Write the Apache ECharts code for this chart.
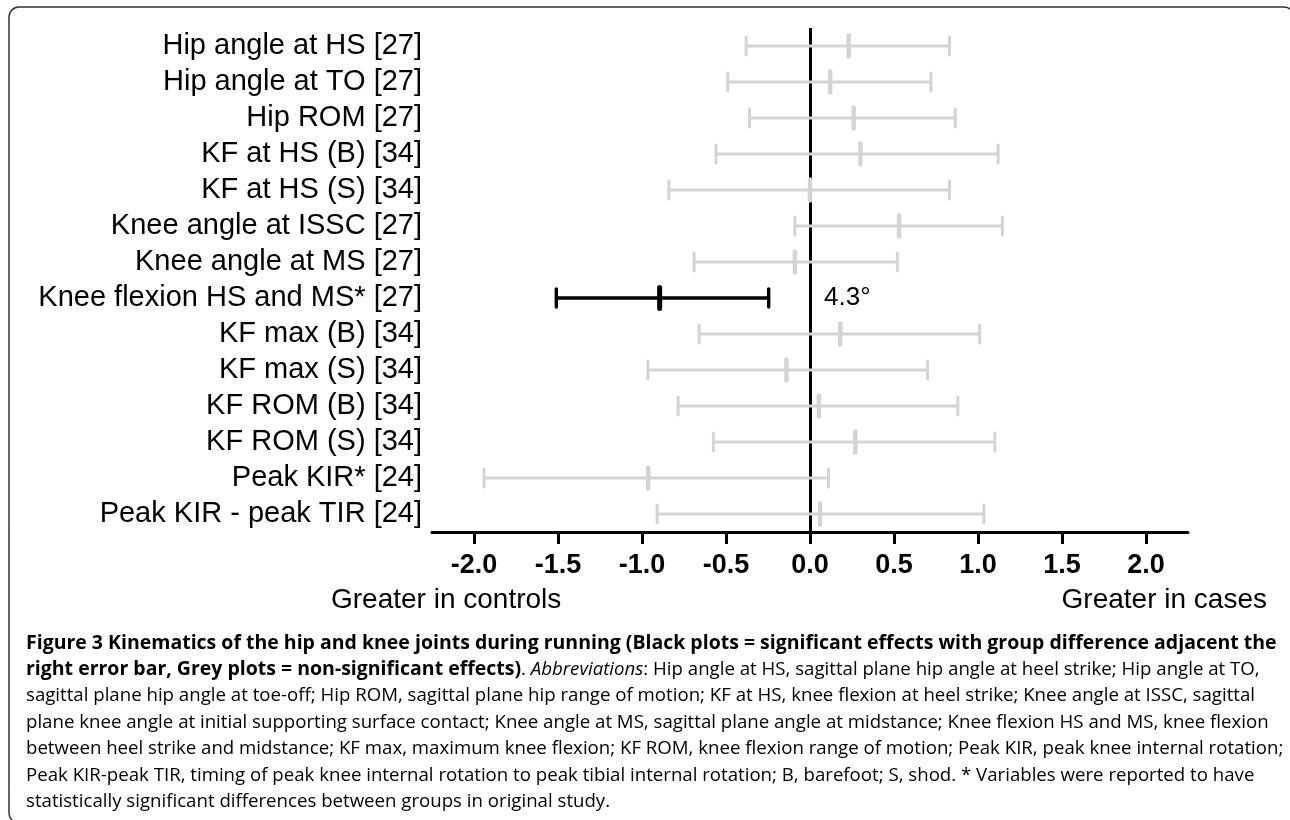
<!DOCTYPE html>
<html><head><meta charset="utf-8">
<script src="https://cdn.jsdelivr.net/npm/echarts@6/dist/echarts.min.js"></script>
<style>html,body{margin:0;padding:0;background:#fff}#c{width:1290px;height:820px}</style>
</head><body><div id="c"></div>
<script>
// ---- data ----
const categories = [
  'Hip angle at HS [27]', 'Hip angle at TO [27]', 'Hip ROM [27]', 'KF at HS (B) [34]',
  'KF at HS (S) [34]', 'Knee angle at ISSC [27]', 'Knee angle at MS [27]',
  'Knee flexion HS and MS* [27]', 'KF max (B) [34]', 'KF max (S) [34]',
  'KF ROM (B) [34]', 'KF ROM (S) [34]', 'Peak KIR* [24]', 'Peak KIR - peak TIR [24]'
];
const lower    = [-0.38, -0.49, -0.36, -0.56, -0.84, -0.09, -0.69, -1.51, -0.66, -0.965, -0.785, -0.575, -1.94, -0.91];
const estimate = [ 0.23,  0.12,  0.26,  0.30,  0.00,  0.53, -0.09, -0.895, 0.18, -0.14,  0.053,  0.27, -0.963, 0.06];
const upper    = [ 0.83,  0.72,  0.865, 1.12,  0.83,  1.145, 0.52, -0.246, 1.01,  0.70,  0.88,   1.10,  0.11,  1.035];
const significant = [0, 0, 0, 0, 0, 0, 0, 1, 0, 0, 0, 0, 0, 0];
const diffLabels  = ['', '', '', '', '', '', '', '4.3°', '', '', '', '', '', ''];
const xTicks = [-2.0, -1.5, -1.0, -0.5, 0.0, 0.5, 1.0, 1.5, 2.0];
const xMin = -2.25, xMax = 2.25;
const leftNote = 'Greater in controls';
const rightNote = 'Greater in cases';
const captionLines = [
  [['b', 'Figure 3 Kinematics of the hip and knee joints during running (Black plots = significant effects with group difference adjacent the']],
  [['b', 'right error bar, Grey plots = non-significant effects)'], ['r', '. '], ['i', 'Abbreviations'], ['r', ': Hip angle at HS, sagittal plane hip angle at heel strike; Hip angle at TO,']],
  [['r', 'sagittal plane hip angle at toe-off; Hip ROM, sagittal plane hip range of motion; KF at HS, knee flexion at heel strike; Knee angle at ISSC, sagittal']],
  [['r', 'plane knee angle at initial supporting surface contact; Knee angle at MS, sagittal plane angle at midstance; Knee flexion HS and MS, knee flexion']],
  [['r', 'between heel strike and midstance; KF max, maximum knee flexion; KF ROM, knee flexion range of motion; Peak KIR, peak knee internal rotation;']],
  [['r', 'Peak KIR-peak TIR, timing of peak knee internal rotation to peak tibial internal rotation; B, barefoot; S, shod. * Variables were reported to have']],
  [['r', 'statistically significant differences between groups in original study.']]
];

// ---- caption font fitting (layout only) ----
const capFont = 'Open Sans';
const capLeft = 26;
const lineRight = [1277, 1253, 1266, 1277, 1277, 1246, 605];
const mctx = document.createElement('canvas').getContext('2d');
function fontStr(key, size) {
  const w = key === 'b' ? 'bold' : 'normal';
  const s = key === 'i' ? 'italic' : 'normal';
  return s + ' ' + w + ' ' + size + 'px "' + capFont + '"';
}
function segWidth(key, text, size) { mctx.font = fontStr(key, size); return mctx.measureText(text).width; }
const base = 20;
const boldSize = base * (lineRight[0] - capLeft) / segWidth('b', captionLines[0][0][1], base);
let regSum = 0;
for (let k = 2; k <= 5; k++) regSum += base * (lineRight[k] - capLeft) / segWidth('r', captionLines[k][0][1], base);
const regSize = regSum / 4;

// ---- chart ----
const chart = echarts.init(document.getElementById('c'), null, {renderer: 'canvas'});
const seriesData = categories.map((c, i) => [i, lower[i], estimate[i], upper[i], significant[i]]);

function renderItem(params, api) {
  const idx = api.value(0);
  const lo = api.coord([api.value(1), idx]);
  const mid = api.coord([api.value(2), idx]);
  const hi = api.coord([api.value(3), idx]);
  const sig = api.value(4) === 1;
  const color = sig ? '#000000' : '#d4d4d4';
  const lw = sig ? 3.4 : 3;
  const y = lo[1];
  const capH = 9, midH = 10.5;
  const children = [
    {type: 'line', shape: {x1: lo[0], y1: y, x2: hi[0], y2: y}, style: {stroke: color, lineWidth: lw}},
    {type: 'line', shape: {x1: lo[0], y1: y - capH, x2: lo[0], y2: y + capH}, style: {stroke: color, lineWidth: lw, lineCap: 'round'}},
    {type: 'line', shape: {x1: hi[0], y1: y - capH, x2: hi[0], y2: y + capH}, style: {stroke: color, lineWidth: lw, lineCap: 'round'}},
    {type: 'line', shape: {x1: mid[0], y1: y - midH, x2: mid[0], y2: y + midH}, style: {stroke: color, lineWidth: sig ? 5 : 4.5, lineCap: 'round'}}
  ];
  const lbl = diffLabels[params.dataIndex];
  if (lbl) {
    const z = api.coord([0, idx]);
    children.push({type: 'text', x: z[0] + 14, y: y, style: {text: lbl, fill: '#000', fontSize: 26, fontFamily: 'Liberation Sans', verticalAlign: 'middle', align: 'left'}});
  }
  return {type: 'group', children};
}

const rich = {
  b: {fontFamily: capFont, fontSize: boldSize, fontWeight: 'bold', color: '#1a1a1a'},
  r: {fontFamily: capFont, fontSize: regSize, color: '#3c3c3c'},
  i: {fontFamily: capFont, fontSize: regSize, fontStyle: 'italic', color: '#3c3c3c'}
};
const captionGraphics = captionLines.map((segs, k) => ({
  type: 'text', x: capLeft, y: 643 + k * 26.5,
  style: {text: segs.map(s => '{' + s[0] + '|' + s[1] + '}').join(''), rich: rich, verticalAlign: 'middle', align: 'left'}
}));

chart.setOption({
  animation: false,
  backgroundColor: '#ffffff',
  grid: {left: 432, right: 102, top: 28, bottom: 288, containLabel: false},
  xAxis: {
    type: 'value', min: xMin, max: xMax,
    splitLine: {show: false},
    axisLine: {show: true, onZero: false, lineStyle: {color: '#000', width: 3}},
    axisTick: {show: true, length: 12, lineStyle: {color: '#000', width: 3}, customValues: xTicks},
    axisLabel: {customValues: xTicks, formatter: v => v.toFixed(1), color: '#000', fontSize: 27, fontWeight: 'bold', fontFamily: 'Liberation Sans', margin: 20}
  },
  yAxis: {
    type: 'category', data: categories, inverse: true,
    axisLine: {show: false}, axisTick: {show: false}, splitLine: {show: false},
    axisLabel: {interval: 0, color: '#000', fontSize: 29, fontFamily: 'Liberation Sans', margin: 10}
  },
  series: [
    {
      type: 'line', data: [], z: 1, silent: true,
      markLine: {silent: true, symbol: ['none', 'none'], label: {show: false},
        lineStyle: {color: '#000', width: 3, type: 'solid'}, emphasis: {disabled: true},
        data: [{xAxis: 0}]}
    },
    {
      type: 'custom', z: 5, silent: true, renderItem: renderItem,
      encode: {x: [1, 2, 3], y: 0}, data: seriesData
    }
  ],
  graphic: [
    {type: 'rect', shape: {x: 9, y: 7, width: 1285, height: 816, r: 10}, style: {fill: 'none', stroke: '#333', lineWidth: 1.5}, z: 0},
    {type: 'text', x: 331, y: 600, style: {text: leftNote, fontSize: 28, fontFamily: 'Liberation Sans', fill: '#000', verticalAlign: 'middle', align: 'left'}},
    {type: 'text', x: 1267, y: 600, style: {text: rightNote, fontSize: 28, fontFamily: 'Liberation Sans', fill: '#000', verticalAlign: 'middle', align: 'right'}}
  ].concat(captionGraphics)
});
</script>
</body></html>
